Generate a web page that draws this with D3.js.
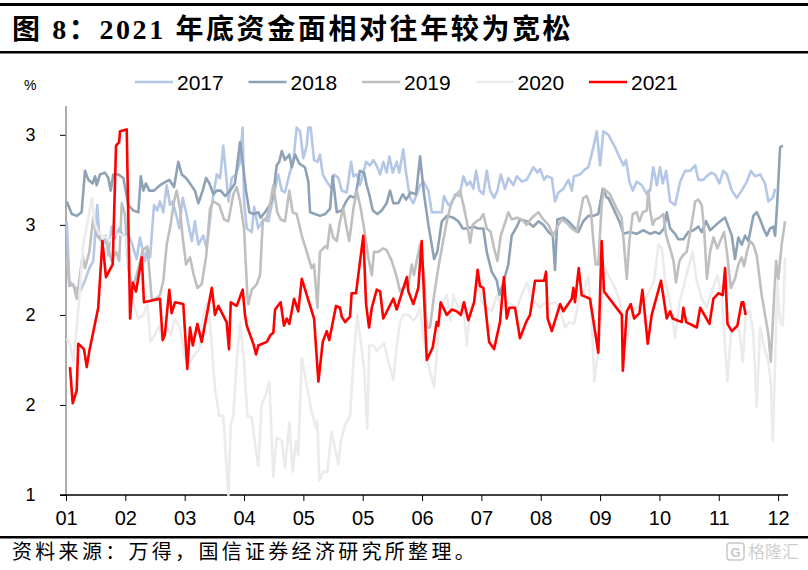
<!DOCTYPE html>
<html>
<head>
<meta charset="UTF-8">
<title></title>
<style>
  body { margin: 0; background: #fff; }
  svg { display: block; }
  .axis text { font-family: "Liberation Sans", Arial, sans-serif; fill: #000; }
</style>
</head>
<body>
<script src="https://cdn.jsdelivr.net/npm/d3@7/dist/d3.min.js"></script>
<script>
// 数据：横轴为一年中的天数，纵轴为利率（%）
var seriesNames = ["2017", "2018", "2019", "2020", "2021"];

var d2017 = [[0.4,2.52],[1.7,2.19],[3.7,2.16],[7.1,2.13],[9.6,2.19],[11.8,2.26],[13.8,2.30],[15.8,2.61],[16.8,2.44],[18.6,2.39],[20.2,2.44],[21.4,2.33],[23.1,2.49],[24.8,2.43],[26.9,2.48],[29.0,2.44],[31.5,2.45],[33.2,2.40],[35.7,2.31],[37.4,2.43],[39.9,2.30],[41.1,2.37],[42.5,2.32],[44.5,2.61],[46.2,2.58],[47.5,2.63],[49.2,2.57],[50.9,2.72],[52.6,2.61],[53.9,2.63],[55.6,2.56],[57.3,2.48],[59.0,2.65],[60.7,2.57],[62.3,2.48],[63.6,2.41],[65.2,2.52],[66.9,2.39],[69.4,2.44],[71.1,2.37],[73.7,2.61],[76.2,2.78],[77.9,2.76],[79.5,2.94],[80.9,2.78],[82.1,2.63],[83.8,2.76],[86.0,2.78],[88.0,2.85],[89.3,3.04],[90.0,2.63],[91.4,2.48],[93.9,2.46],[95.1,2.60],[97.2,2.48],[99.8,2.53],[102.3,2.52],[104.0,2.61],[105.7,2.70],[107.3,2.78],[109.1,2.69],[110.7,2.68],[112.9,2.78],[114.9,2.85],[116.6,3.04],[118.3,3.02],[120.0,2.87],[121.7,2.94],[122.5,3.04],[123.7,3.04],[125.4,2.86],[127.1,2.85],[128.4,2.89],[129.8,2.78],[131.8,2.74],[134.3,2.70],[135.5,2.78],[137.7,2.76],[139.4,2.69],[141.9,2.68],[144.1,2.85],[145.3,2.77],[147.0,2.78],[148.6,2.72],[151.7,2.85],[153.7,2.83],[155.4,2.86],[157.4,2.82],[158.8,2.78],[160.4,2.85],[162.1,2.79],[163.5,2.88],[165.2,2.79],[167.2,2.85],[168.5,2.79],[170.5,2.92],[171.9,2.79],[173.9,2.65],[175.6,2.62],[177.3,2.67],[179.0,2.72],[180.7,2.74],[183.2,2.69],[184.9,2.57],[187.4,2.57],[190.0,2.57],[191.1,2.66],[193.3,2.61],[195.0,2.62],[196.7,2.67],[198.9,2.66],[200.9,2.77],[202.6,2.72],[204.3,2.74],[205.9,2.70],[207.3,2.80],[209.0,2.69],[211.0,2.67],[212.7,2.80],[214.4,2.69],[216.4,2.65],[218.1,2.69],[219.8,2.78],[221.9,2.70],[223.6,2.76],[226.2,2.72],[227.9,2.77],[230.4,2.74],[232.9,2.75],[236.3,2.82],[238.3,2.79],[239.7,2.81],[241.7,2.75],[243.0,2.77],[245.6,2.76],[247.2,2.63],[248.9,2.68],[251.4,2.70],[254.0,2.75],[255.7,2.69],[256.8,2.77],[259.9,2.78],[262.4,2.81],[264.1,2.82],[266.6,2.93],[268.3,3.02],[270.0,2.83],[271.7,3.02],[274.2,3.00],[277.6,2.93],[280.1,2.87],[281.8,2.83],[283.1,2.86],[284.8,2.74],[286.5,2.69],[288.5,2.74],[291.1,2.72],[293.6,2.67],[295.3,2.69],[296.9,2.82],[298.7,2.72],[300.3,2.82],[301.7,2.73],[303.4,2.80],[305.4,2.63],[307.9,2.61],[310.5,2.74],[313.0,2.80],[315.5,2.80],[318.1,2.83],[319.7,2.75],[322.2,2.75],[323.9,2.77],[326.1,2.79],[328.1,2.78],[330.3,2.73],[332.3,2.80],[334.1,2.78],[336.6,2.69],[339.1,2.65],[341.6,2.69],[344.2,2.74],[346.2,2.80],[348.4,2.77],[350.9,2.78],[353.4,2.73],[355.1,2.63],[357.3,2.65],[358.5,2.70]];

var d2018 = [[0.4,2.63],[2.9,2.56],[5.4,2.55],[7.9,2.57],[9.6,2.80],[11.3,2.75],[13.5,2.73],[14.7,2.77],[15.5,2.72],[17.2,2.78],[19.7,2.79],[21.4,2.76],[22.6,2.69],[23.9,2.78],[26.4,2.78],[29.0,2.76],[31.5,2.61],[34.0,2.58],[36.6,2.57],[37.8,2.77],[39.1,2.69],[40.4,2.73],[42.1,2.69],[44.5,2.69],[47.5,2.72],[50.6,2.74],[52.2,2.75],[54.6,2.71],[56.8,2.85],[58.5,2.78],[60.7,2.76],[62.7,2.73],[65.2,2.69],[66.9,2.62],[69.1,2.69],[70.8,2.76],[72.5,2.73],[74.5,2.67],[76.2,2.69],[78.2,2.69],[80.4,2.66],[82.9,2.69],[85.4,2.73],[88.0,2.96],[89.3,2.85],[91.0,2.69],[92.7,2.57],[94.7,2.56],[97.2,2.57],[98.4,2.54],[100.6,2.57],[103.1,2.61],[104.8,2.67],[106.5,2.83],[107.8,2.85],[109.1,2.91],[110.7,2.86],[112.9,2.89],[114.1,2.82],[115.8,2.89],[118.0,2.84],[120.8,2.82],[122.5,2.74],[123.4,2.57],[125.9,2.56],[128.4,2.55],[131.0,2.56],[133.5,2.59],[134.8,2.77],[136.9,2.57],[139.4,2.58],[141.6,2.63],[143.6,2.66],[146.1,2.65],[147.3,2.72],[148.6,2.80],[150.7,2.79],[152.0,2.72],[153.3,2.67],[155.1,2.58],[157.4,2.56],[159.6,2.58],[162.1,2.62],[163.8,2.69],[165.5,2.62],[168.0,2.62],[170.2,2.67],[171.9,2.64],[174.3,2.68],[177.0,2.67],[179.0,2.88],[181.0,2.67],[183.2,2.50],[186.1,2.31],[187.7,2.35],[190.0,2.52],[192.5,2.55],[195.8,2.54],[198.3,2.52],[200.6,2.48],[202.6,2.48],[205.9,2.49],[208.5,2.48],[211.0,2.48],[212.7,2.35],[215.2,2.24],[217.8,2.19],[219.1,2.11],[220.8,2.17],[223.6,2.28],[225.3,2.44],[227.9,2.49],[229.5,2.53],[232.9,2.52],[236.3,2.49],[238.8,2.52],[241.3,2.50],[243.9,2.46],[246.1,2.44],[247.2,2.25],[248.4,2.53],[251.4,2.54],[254.0,2.52],[256.5,2.49],[259.0,2.46],[261.5,2.52],[264.1,2.55],[266.6,2.55],[269.1,2.56],[271.4,2.70],[273.4,2.65],[274.2,2.65],[277.6,2.57],[280.1,2.51],[281.8,2.45],[285.1,2.46],[288.5,2.45],[291.9,2.47],[295.3,2.45],[297.8,2.46],[300.0,2.45],[302.4,2.48],[303.7,2.57],[305.4,2.48],[307.9,2.45],[309.6,2.42],[312.1,2.42],[314.6,2.46],[317.2,2.47],[319.7,2.49],[321.4,2.46],[323.6,2.52],[325.6,2.47],[328.6,2.50],[330.7,2.52],[333.2,2.54],[334.9,2.49],[336.6,2.44],[338.2,2.31],[339.9,2.43],[341.6,2.39],[343.3,2.44],[345.0,2.41],[347.5,2.55],[349.2,2.57],[350.9,2.53],[352.6,2.48],[354.3,2.44],[355.9,2.48],[357.6,2.49],[358.5,2.44],[359.6,2.63],[361.0,2.93],[362.4,2.94]];

var d2019 = [[0.4,2.32],[1.7,2.16],[3.7,2.17],[5.4,2.09],[6.7,2.19],[8.4,2.33],[9.6,2.26],[11.8,2.35],[13.8,2.54],[15.5,2.44],[18.1,2.41],[20.6,2.40],[23.1,2.30],[25.3,2.35],[26.9,2.30],[28.2,2.62],[29.8,2.56],[31.5,2.26],[33.2,2.15],[34.9,2.19],[36.6,2.26],[38.8,2.36],[41.1,2.38],[43.3,2.09],[45.5,2.09],[47.5,2.11],[49.2,2.19],[50.9,2.39],[52.9,2.50],[54.6,2.63],[56.0,2.69],[57.6,2.59],[59.0,2.43],[60.7,2.28],[62.7,2.32],[64.4,2.23],[66.4,2.15],[68.6,2.17],[70.8,2.32],[72.8,2.59],[74.5,2.63],[77.5,2.61],[79.9,2.53],[82.1,2.52],[84.6,2.67],[86.3,2.71],[88.0,2.63],[90.0,2.48],[91.7,2.11],[92.2,2.06],[93.9,2.14],[96.4,2.17],[98.1,2.22],[99.5,2.52],[101.5,2.54],[103.1,2.61],[104.8,2.72],[106.8,2.57],[108.5,2.53],[110.7,2.52],[112.9,2.69],[114.6,2.57],[116.6,2.56],[119.2,2.44],[121.7,2.35],[124.2,2.26],[125.4,2.28],[127.1,2.04],[128.4,2.35],[131.0,2.38],[132.1,2.37],[133.5,2.50],[135.1,2.43],[136.9,2.41],[138.5,2.52],[140.2,2.59],[141.9,2.48],[143.2,2.41],[145.3,2.59],[147.0,2.69],[149.0,2.59],[150.7,2.48],[152.8,2.32],[154.6,2.22],[155.7,2.35],[157.9,2.35],[160.4,2.37],[162.1,2.36],[164.7,2.30],[167.2,2.21],[168.9,2.13],[170.5,2.15],[173.1,2.17],[174.8,2.28],[175.9,2.22],[177.3,2.30],[179.0,2.39],[181.0,2.22],[182.4,1.93],[184.0,1.93],[186.1,2.11],[188.2,2.26],[190.0,2.37],[192.5,2.52],[195.0,2.63],[197.5,2.67],[199.2,2.69],[200.9,2.61],[202.6,2.52],[204.3,2.40],[205.6,2.50],[207.6,2.52],[209.3,2.53],[211.0,2.56],[212.7,2.48],[214.7,2.46],[216.4,2.37],[218.1,2.30],[219.8,2.44],[221.9,2.51],[223.6,2.57],[225.3,2.53],[227.9,2.54],[230.4,2.53],[232.9,2.50],[235.5,2.54],[238.8,2.57],[241.3,2.53],[243.9,2.50],[246.4,2.44],[248.4,2.49],[250.6,2.53],[253.2,2.51],[255.7,2.48],[258.2,2.46],[259.9,2.56],[261.5,2.65],[263.3,2.66],[265.3,2.59],[266.6,2.41],[267.8,2.28],[269.1,2.28],[270.8,2.61],[272.0,2.70],[275.0,2.67],[278.4,2.59],[280.9,2.54],[282.1,2.39],[283.5,2.20],[284.8,2.41],[286.5,2.56],[288.5,2.57],[289.9,2.52],[291.6,2.57],[293.6,2.58],[294.4,2.69],[295.3,2.58],[296.6,2.50],[297.8,2.53],[300.0,2.54],[302.0,2.56],[303.4,2.44],[305.4,2.37],[307.1,2.30],[308.4,2.18],[310.1,2.30],[311.8,2.33],[313.8,2.35],[315.9,2.48],[318.1,2.63],[319.7,2.64],[321.4,2.61],[322.6,2.48],[324.0,2.20],[325.6,2.35],[327.3,2.43],[329.3,2.37],[331.5,2.43],[332.7,2.46],[334.1,2.35],[336.1,2.15],[338.2,2.20],[339.9,2.28],[341.6,2.32],[342.8,2.27],[344.2,2.35],[345.8,2.41],[347.5,2.39],[349.2,2.33],[351.7,2.11],[353.4,2.00],[355.1,1.89],[356.3,1.74],[357.6,2.02],[359.0,2.30],[360.1,2.20],[361.8,2.39],[363.5,2.52]];

var d2020 = [[0.4,1.87],[2.0,1.84],[3.7,1.74],[5.4,1.93],[7.1,2.15],[8.7,2.39],[11.3,2.54],[13.0,2.65],[14.7,2.50],[16.3,2.46],[18.1,2.44],[20.6,2.43],[22.2,2.41],[23.9,2.44],[26.4,2.45],[29.0,2.44],[30.7,2.43],[32.4,2.19],[34.0,2.06],[36.6,1.98],[39.1,2.00],[41.1,2.06],[42.8,1.85],[45.0,1.89],[47.2,1.94],[48.4,1.87],[50.9,1.93],[52.9,1.89],[55.1,1.98],[57.6,1.93],[60.2,1.76],[62.7,1.74],[65.2,1.78],[67.8,1.82],[70.3,2.04],[71.9,2.07],[73.7,1.83],[75.3,1.59],[77.5,1.44],[79.5,1.44],[82.1,1.00],[83.3,1.39],[84.6,1.44],[86.3,1.74],[88.0,1.96],[90.0,1.74],[91.7,1.44],[93.9,1.43],[95.6,1.28],[97.2,1.16],[98.9,1.50],[101.1,1.56],[102.8,1.63],[104.8,1.10],[106.5,1.32],[109.1,1.30],[110.7,1.15],[112.9,1.40],[114.6,1.13],[116.3,1.30],[117.4,1.22],[119.2,1.76],[121.7,1.61],[124.2,1.46],[126.4,1.37],[127.1,1.41],[128.1,1.08],[130.1,1.13],[132.1,1.13],[134.3,1.35],[136.0,1.26],[137.7,1.17],[139.0,1.30],[141.1,1.39],[143.6,1.44],[145.3,1.74],[147.3,2.00],[149.0,1.85],[150.7,1.70],[152.3,1.37],[153.3,1.83],[155.4,1.83],[157.1,1.80],[158.8,1.82],[160.8,1.84],[163.0,1.74],[165.5,1.64],[167.2,1.83],[168.9,1.96],[170.5,2.00],[173.1,2.00],[175.6,1.97],[177.3,1.99],[179.0,2.04],[180.7,1.87],[183.2,1.72],[186.1,1.60],[188.2,1.89],[190.0,2.06],[192.5,2.11],[194.5,1.97],[195.8,2.11],[198.3,2.04],[200.9,2.07],[202.6,1.83],[204.6,2.04],[206.8,2.09],[208.5,2.20],[210.2,2.07],[212.7,2.04],[215.2,2.02],[217.8,2.11],[220.3,2.04],[222.5,2.07],[224.8,2.06],[227.9,2.04],[230.4,2.11],[232.9,2.18],[234.9,2.11],[237.1,2.07],[239.7,2.04],[242.2,2.07],[244.7,2.06],[247.2,2.07],[249.4,2.04],[252.3,1.93],[254.5,1.96],[256.8,1.95],[259.5,2.09],[261.5,2.13],[264.1,2.21],[265.8,1.96],[267.1,1.63],[269.1,1.80],[270.8,2.04],[272.5,2.26],[274.2,2.22],[277.6,2.15],[280.1,2.07],[282.1,1.93],[283.5,1.82],[285.1,2.00],[288.5,2.04],[291.9,2.07],[294.9,2.13],[297.3,2.19],[299.5,2.39],[301.2,2.37],[302.9,2.19],[305.4,2.07],[307.9,1.87],[310.1,2.07],[312.1,2.15],[314.6,2.26],[316.8,2.35],[318.8,2.19],[321.4,2.09],[323.9,2.04],[327.0,2.15],[329.3,2.22],[331.5,2.11],[333.2,1.83],[334.4,1.63],[336.1,1.89],[338.2,1.93],[340.4,1.91],[342.1,1.74],[343.8,2.02],[345.8,2.02],[347.5,1.89],[349.2,1.49],[350.9,1.93],[352.9,1.82],[355.1,1.74],[356.3,1.63],[357.3,1.30],[358.5,1.74],[359.6,2.19],[361.0,1.96],[362.4,1.94],[363.5,2.32]];

var d2021 = [[2.0,1.71],[3.4,1.51],[5.4,1.58],[6.2,1.84],[9.1,1.81],[10.5,1.71],[11.8,1.80],[16.3,2.04],[18.4,2.41],[20.2,2.21],[23.6,2.28],[25.3,2.94],[26.9,2.96],[27.3,3.02],[30.7,3.03],[32.4,1.98],[33.7,2.18],[35.4,2.13],[38.3,2.32],[39.4,2.07],[47.5,2.09],[48.9,1.86],[50.0,1.89],[52.2,2.14],[53.4,2.01],[55.1,2.07],[59.3,2.06],[61.3,1.70],[62.7,1.93],[64.1,1.83],[66.4,1.95],[68.6,1.85],[73.7,2.15],[75.3,2.00],[77.0,2.05],[81.2,1.96],[82.4,1.81],[83.3,2.07],[86.3,2.05],[89.3,2.14],[90.5,2.00],[91.4,1.94],[94.7,1.84],[96.1,1.78],[97.2,1.83],[101.5,1.85],[103.5,1.89],[104.8,1.90],[105.7,2.03],[108.5,2.07],[110.2,1.94],[111.6,1.98],[112.9,1.95],[115.3,2.09],[117.4,2.02],[119.2,2.20],[125.4,1.98],[127.6,1.63],[129.8,1.85],[131.8,1.91],[133.1,1.86],[136.5,2.05],[138.5,2.04],[139.4,1.99],[141.1,1.96],[143.6,1.99],[144.4,2.12],[146.6,2.12],[150.3,2.44],[151.7,2.06],[153.2,1.93],[154.6,2.04],[157.1,2.14],[158.8,2.13],[160.4,1.98],[165.5,2.09],[167.2,2.03],[172.3,2.21],[173.1,2.13],[175.6,2.06],[178.1,2.15],[179.8,2.41],[182.4,1.75],[185.4,1.82],[187.4,1.96],[188.2,1.94],[189.4,2.07],[192.5,2.00],[195.0,2.03],[197.5,2.02],[199.6,2.00],[201.2,2.07],[203.4,1.97],[206.3,2.07],[208.1,2.25],[209.3,2.16],[211.0,2.15],[213.9,1.85],[216.4,1.81],[219.4,1.96],[221.4,2.21],[222.8,1.98],[224.1,2.04],[227.0,2.04],[229.5,1.87],[232.6,1.96],[234.6,2.00],[237.1,2.19],[241.7,2.19],[242.7,2.24],[243.5,1.98],[245.6,1.91],[249.8,2.06],[251.4,2.02],[255.7,2.09],[256.5,2.15],[257.3,2.07],[259.2,2.26],[260.7,2.11],[264.9,2.09],[269.1,1.79],[270.8,2.41],[272.0,2.13],[281.0,2.00],[281.5,1.69],[283.5,2.02],[285.5,2.06],[287.2,1.98],[289.9,2.01],[291.4,2.14],[294.1,1.84],[296.1,2.00],[300.8,2.19],[303.7,1.98],[305.4,2.02],[306.7,1.98],[311.3,1.96],[312.1,2.04],[313.5,1.96],[318.9,1.93],[320.6,2.04],[325.3,1.95],[327.3,2.09],[329.8,2.12],[332.0,2.11],[333.2,2.26],[334.4,1.95],[336.6,1.91],[339.4,1.94],[341.6,2.07],[342.4,2.07],[343.6,2.00]];

var seriesData = [d2017, d2018, d2019, d2020, d2021];

// 刻度
var xTickDays = [0, 30, 60, 90, 120, 150, 180, 210, 240, 270, 300, 330, 360];
var xTickLabels = ["01", "02", "03", "04", "05", "05", "06", "07", "08", "09", "10", "11", "12"];
var yTicks = [1, 1.5, 2, 2.5, 3];
var yTickLabels = ["1", "2", "2", "3", "3"];

var colors = ["#b4c7e7", "#8ea2b6", "#bfbfbf", "#ebebeb", "#ff0000"];

var W = 808, H = 570;
var svg = d3.select("body").append("svg")
    .attr("width", W)
    .attr("height", H);

svg.append("rect").attr("width", W).attr("height", H).attr("fill", "#fff");

// 标题栏和底部横线
svg.append("rect").attr("x", 0).attr("y", 3).attr("width", W).attr("height", 3).attr("fill", "#000");
svg.append("rect").attr("x", 0).attr("y", 51).attr("width", W).attr("height", 2.5).attr("fill", "#000");
svg.append("rect").attr("x", 0).attr("y", 536).attr("width", W).attr("height", 2.5).attr("fill", "#000");

svg.append("text")
    .attr("x", 12)
    .attr("y", 39)
    .attr("font-family", "'Liberation Serif', 'Noto Sans CJK SC', serif")
    .attr("font-weight", "bold")
    .attr("font-size", 28)
    .attr("letter-spacing", 2.6)
    .text("图 8：2021 年底资金面相对往年较为宽松");

svg.append("text")
    .attr("x", 12)
    .attr("y", 559)
    .attr("font-family", "'Noto Sans CJK SC', sans-serif")
    .attr("font-size", 20)
    .attr("letter-spacing", 3.3)
    .text("资料来源：万得，国信证券经济研究所整理。");

// 水印
var wm = svg.append("g").attr("fill", "none").attr("stroke", "#c8c8c8");
wm.append("rect").attr("x", 727).attr("y", 543).attr("width", 17).attr("height", 17).attr("rx", 3).attr("stroke-width", 1.5);
svg.append("text").attr("x", 735.5).attr("y", 557).attr("text-anchor", "middle")
    .attr("font-family", "'Liberation Sans', sans-serif").attr("font-size", 13)
    .attr("font-weight", "bold").attr("fill", "#c8c8c8").text("G");
svg.append("text").attr("x", 748).attr("y", 558)
    .attr("font-family", "'Noto Sans CJK SC', sans-serif").attr("font-size", 17)
    .attr("fill", "#d0d0d0").text("格隆汇");

// 比例尺
var x = d3.scaleLinear().domain([0, 365]).range([66, 788]);
var y = d3.scaleLinear().domain([1, 3.16]).range([495, 106]);

// 坐标轴
var yAxis = d3.axisLeft(y)
    .tickValues(yTicks)
    .tickFormat(function(d, i) { return yTickLabels[i]; })
    .tickSize(6)
    .tickPadding(26);

var gy = svg.append("g")
    .attr("class", "axis")
    .attr("transform", "translate(" + x(0) + ",0)")
    .call(yAxis);
gy.select(".domain").remove();
gy.selectAll("line").attr("stroke", "#000");
gy.selectAll("text").attr("font-size", 18).attr("text-anchor", "middle").attr("dx", "-0.2em");
gy.append("line")
    .attr("x1", 0).attr("x2", 0)
    .attr("y1", y.range()[1]).attr("y2", y.range()[0])
    .attr("stroke", "#808080").attr("stroke-width", 1.3);

var xAxis = d3.axisBottom(x)
    .tickValues(xTickDays)
    .tickFormat(function(d, i) { return xTickLabels[i]; })
    .tickSize(6)
    .tickPadding(10);

var gx = svg.append("g")
    .attr("class", "axis")
    .attr("transform", "translate(0," + y(1) + ")")
    .call(xAxis);
gx.select(".domain").remove();
gx.selectAll("line").attr("stroke", "#000");
gx.selectAll("text").attr("font-size", 20);
gx.append("line")
    .attr("x1", x(0) - 6).attr("x2", x.range()[1])
    .attr("y1", 0).attr("y2", 0)
    .attr("stroke", "#000").attr("stroke-width", 1.3);

// 折线
var line = d3.line()
    .x(function(d) { return x(d[0]); })
    .y(function(d) { return y(d[1]); });

svg.append("g").selectAll("path")
    .data(seriesData)
    .enter()
    .append("path")
    .attr("d", line)
    .attr("fill", "none")
    .attr("stroke", function(d, i) { return colors[i]; })
    .attr("stroke-width", 2.6)
    .attr("stroke-linejoin", "round");

// 单位
svg.append("text")
    .attr("x", 24).attr("y", 90)
    .attr("font-family", "'Liberation Sans', sans-serif")
    .attr("font-size", 14)
    .text("%");

// 图例
var legend = svg.append("g").attr("transform", "translate(135,82)");
var item = legend.selectAll("g")
    .data(seriesNames)
    .enter()
    .append("g")
    .attr("transform", function(d, i) { return "translate(" + i * 113.5 + ",0)"; });
item.append("line")
    .attr("x1", 0).attr("x2", 38)
    .attr("y1", 0).attr("y2", 0)
    .attr("stroke", function(d, i) { return colors[i]; })
    .attr("stroke-width", 2.6);
item.append("text")
    .attr("x", 42).attr("y", 7.5)
    .attr("font-family", "'Liberation Sans', sans-serif")
    .attr("font-size", 21)
    .text(function(d) { return d; });
</script>
</body>
</html>
